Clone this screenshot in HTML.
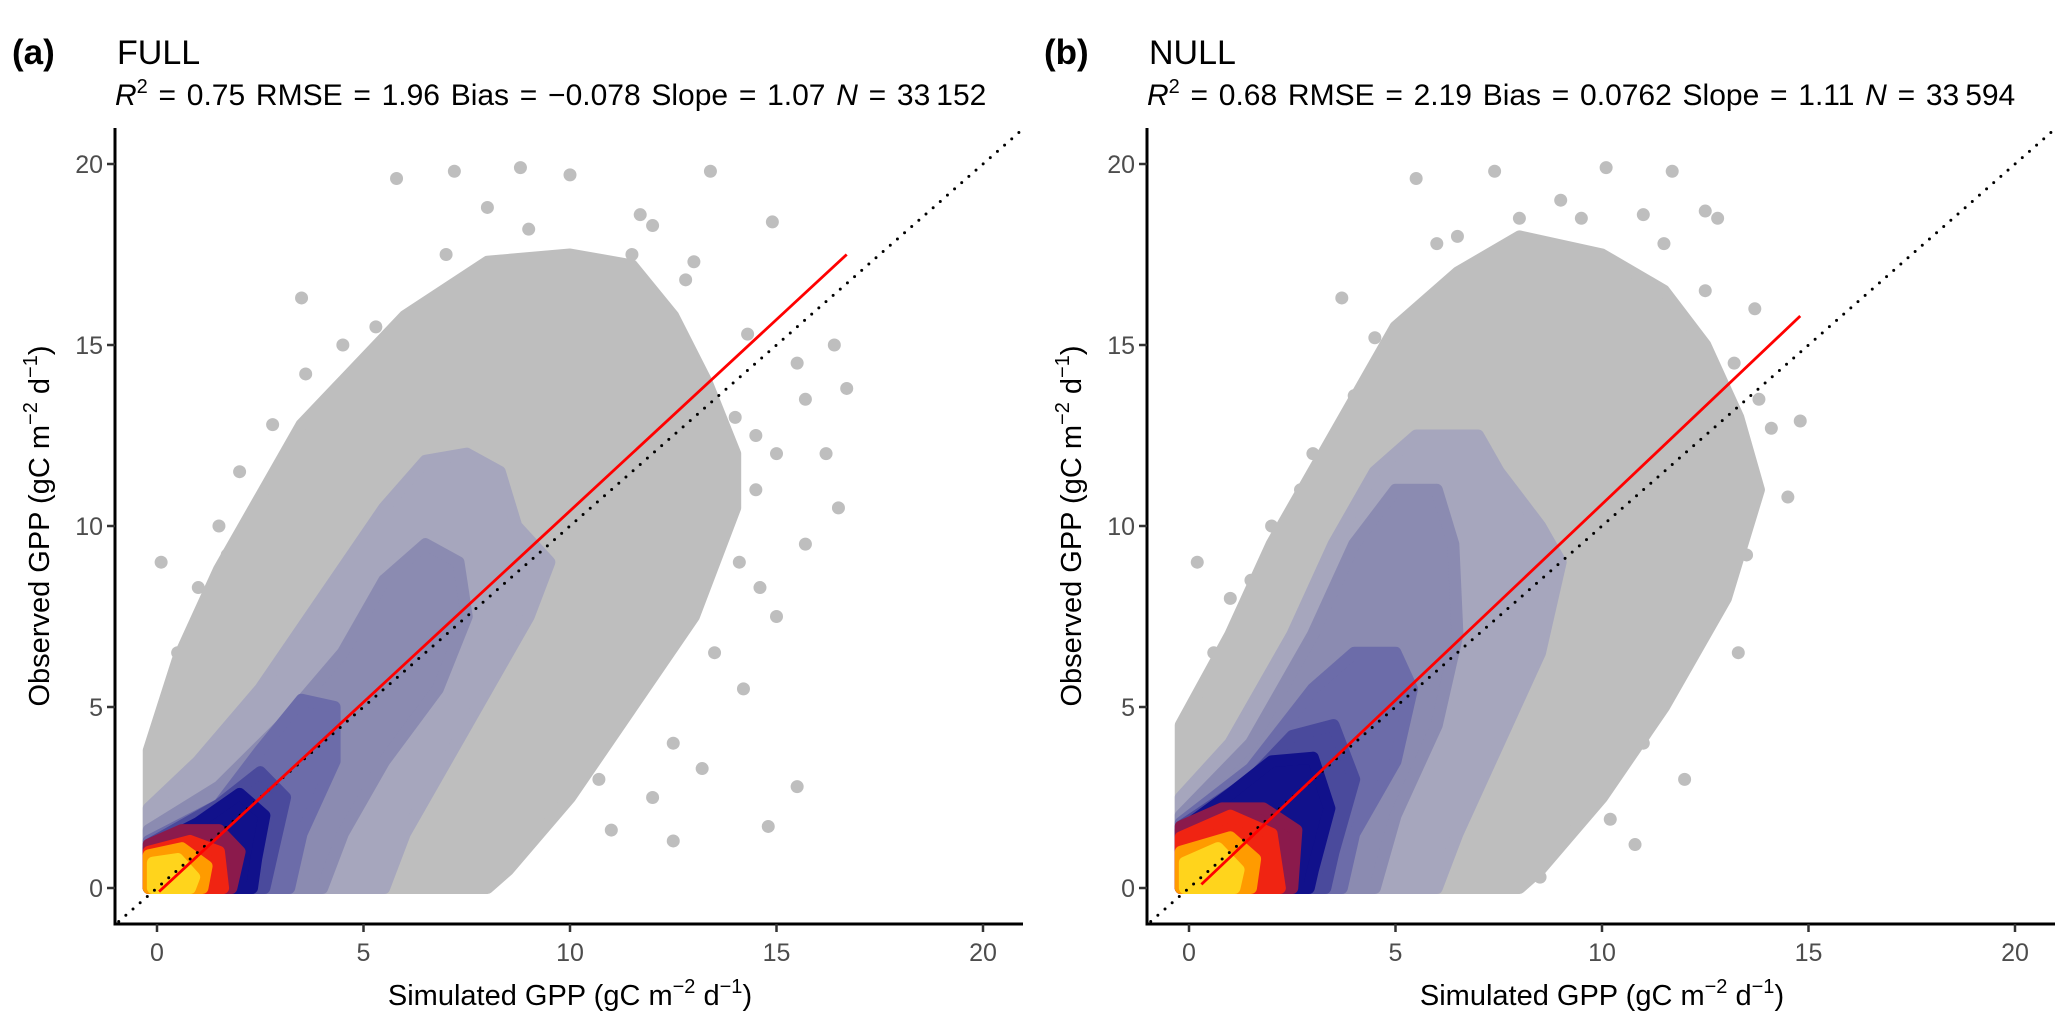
<!DOCTYPE html>
<html><head><meta charset="utf-8">
<style>
html,body{margin:0;padding:0;background:#fff;}
svg{display:block;font-family:"Liberation Sans",Arial,sans-serif;}
</style></head>
<body>
<svg id="fig" width="2067" height="1025" viewBox="0 0 2067 1025" xmlns="http://www.w3.org/2000/svg">
<defs>
<clipPath id="clipA"><rect x="115" y="128" width="910" height="796"/></clipPath>
<clipPath id="clipB"><rect x="1147" y="128" width="920" height="796"/></clipPath>
</defs>
<g id="panelA"></g>
<g id="panelB"></g>
</svg>
<script>
const xTicks = [0, 5, 10, 15, 20];
const yTicks = [0, 5, 10, 15, 20];
const levelColors = ["#bebebe","#a6a6bd","#8b8bb1","#6c6ca9","#4a4a9c","#11118b","#8b1a4c","#f02412","#ff9b00","#ffd41c"];
const levelNames = ["gray","slate-1","slate-2","slate-3","slate-4","navy","dark-red","red","orange","yellow"];

const densityA = [
 [[-0.2,0],[-0.2,3.8],[0.5,6.3],[1.5,8.8],[2.5,10.8],[3.5,12.8],[4.5,14],[6,15.8],[8,17.3],[10,17.5],[11.5,17.2],[12.5,15.8],[13.3,14],[14,12],[14,10.5],[13,7.5],[11.5,5],[10,2.5],[8.5,0.5],[8,0]],
 [[-0.2,0],[-0.2,2.2],[1,3.5],[2.5,5.5],[4,8],[5.5,10.5],[6.5,11.8],[7.5,12],[8.3,11.5],[8.7,10],[9.5,9],[9,7.5],[8,5.5],[7,3.5],[6,1.5],[5.5,0]],
 [[-0.2,0],[-0.2,1.6],[1.5,2.8],[3,4.5],[4.5,6.5],[5.5,8.5],[6.5,9.5],[7.3,9],[7.5,7.5],[6.8,5.5],[5.5,3.5],[4.5,1.5],[4,0]],
 [[-0.2,0],[-0.2,1.3],[1.5,2.3],[2.5,3.8],[3.5,5.2],[4.3,5],[4.3,3.5],[3.5,1.5],[3.2,0]],
 [[-0.2,0],[-0.2,1.2],[1.5,2.3],[2.5,3.2],[3.1,2.5],[2.8,1],[2.6,0]],
 [[-0.2,0],[-0.2,1.1],[1,1.8],[2,2.6],[2.6,2],[2.4,0.8],[2.3,0]],
 [[-0.2,0],[-0.2,1.2],[0.6,1.6],[1.5,1.6],[2,1],[1.8,0]],
 [[-0.2,0],[-0.2,1],[0.8,1.3],[1.5,1],[1.6,0]],
 [[-0.2,0],[-0.2,0.9],[0.6,1.1],[1.2,0.6],[1.1,0]],
 [[-0.1,0],[-0.1,0.7],[0.5,0.8],[0.9,0.3],[0.8,0]]
];
const densityB = [
 [[-0.2,0],[-0.2,4.5],[1,7],[2,9.5],[3,11.5],[4,13.5],[5,15.5],[6.5,17],[8,18],[10,17.5],[11.5,16.5],[12.5,15],[13.3,13],[13.8,11],[13,8],[11.5,5],[10,2.5],[8.5,0.5],[8,0]],
 [[-0.2,0],[-0.2,2.5],[1,4],[2.5,7],[3.5,9.5],[4.5,11.5],[5.5,12.5],[7,12.5],[7.5,11.5],[8.5,10],[9,9],[8.5,6.5],[7.5,4],[6.5,1.5],[6,0]],
 [[-0.2,0],[-0.2,2],[1.5,4],[3,7],[4,9.5],[5,11],[6,11],[6.4,9.5],[6.5,7],[6,4.5],[5,2],[4.5,0]],
 [[-0.2,0],[-0.2,1.8],[1.5,3.3],[3,5.5],[4,6.5],[5,6.5],[5.4,5.5],[5,3.5],[4,1.5],[3.7,0]],
 [[-0.2,0],[-0.2,1.7],[1.5,3],[2.5,4.2],[3.5,4.5],[4,3],[3.5,1],[3.3,0]],
 [[-0.2,0],[-0.2,1.6],[1,2.6],[2,3.5],[3,3.6],[3.4,2.2],[3,0.5],[2.9,0]],
 [[-0.2,0],[-0.2,1.7],[0.8,2.2],[1.8,2.2],[2.6,1.6],[2.5,0]],
 [[-0.2,0],[-0.2,1.4],[1,2],[2,1.5],[2.2,0]],
 [[-0.2,0],[-0.2,1],[1,1.4],[1.6,0.8],[1.5,0]],
 [[-0.1,0],[-0.1,0.7],[0.7,1.1],[1.2,0.5],[1.1,0]]
];
const outliersA = [[0.1,9],[0.5,6.5],[1,8.3],[1.5,10],[2,11.5],[2.8,12.8],[3.5,16.3],[3.6,14.2],[5.3,15.5],[5.8,19.6],[7.2,19.8],[8,18.8],[8.8,19.9],[10,19.7],[11.7,18.6],[13.4,19.8],[11.5,17.5],[14,13],[14.5,12.5],[15,12],[15.7,13.5],[16.2,12],[16.5,10.5],[16.7,13.8],[16.4,15],[14.9,18.4],[15.5,14.5],[15.7,9.5],[15.5,2.8],[14.8,1.7],[14.1,9],[13.5,6.5],[12.5,4],[12,2.5],[11,1.6],[10.7,3],[11.2,5.5],[13,9],[15,7.5],[14.5,11],[12.8,16.8],[6.5,14.5],[4,12],[0.3,5],[1.7,9.2],[9.5,17],[2.3,9.8],[1.2,7.2],[3,11.5],[4.5,15],[7,17.5],[9,18.2],[12,18.3],[13,17.3],[14.3,15.3],[14.6,8.3],[14.2,5.5],[12.5,1.3],[13.2,3.3]];
const outliersB = [[0.2,9],[0.6,6.5],[1,8],[2,10],[3,12],[4,13.6],[3.7,16.3],[5.5,19.6],[7.4,19.8],[8,18.5],[9,19],[10.1,19.9],[11.7,19.8],[12.8,18.5],[12.5,18.7],[13.7,16],[14.1,12.7],[14.8,12.9],[13.2,14.5],[14.5,10.8],[13.5,9.2],[12,7],[11,4],[10.2,1.9],[9.8,3],[8.5,0.3],[13,12],[12.5,16.5],[6.5,18],[2.5,8],[7.5,17.5],[11.5,17.8],[1.5,8.5],[2.7,11],[4.5,15.2],[6,17.8],[9.5,18.5],[11,18.6],[13.8,13.5],[13.3,6.5],[12,3],[10.8,1.2]];
const fitA = [[0.05,-0.1],[16.7,17.5]];
const fitB = [[0.3,0.1],[14.8,15.8]];
const statsA = ["0.75","1.96","\u22120.078","1.07","33\u2009152"];
const statsB = ["0.68","2.19","0.0762","1.11","33\u2009594"];

const NS = "http://www.w3.org/2000/svg";
function mk(tag, attrs, parent){
  const e = document.createElementNS(NS, tag);
  for (const k in attrs) e.setAttribute(k, attrs[k]);
  parent.appendChild(e); return e;
}
function drawPanel(g, x0, clipId, dens, outs, fit, stats, tag, title){
  const sx = v => x0 + v * 41.3;
  const sy = v => 888 - v * 36.2;
  const data = mk("g", {"clip-path": "url(#" + clipId + ")"}, g);
  
  
  outs.forEach(p => {
    const c = mk("circle", {cx: sx(p[0]), cy: sy(p[1]), r: 6.5, fill: levelColors[0]}, data);
    
    
  });
  dens.forEach((poly, i) => {
    const pts = poly.map(p => sx(p[0]) + "," + Math.min(sy(p[1]), 888 + 6)).join(" ");
    const pg = mk("polygon", {points: pts, fill: levelColors[i], stroke: levelColors[i], "stroke-width": 12, "stroke-linejoin": "round"}, data);
    
    
  });
  const one = mk("line", {x1: sx(-1.1), y1: sy(-1.1), x2: sx(21.5), y2: sy(21.5), stroke: "#000", "stroke-width": 3, "stroke-dasharray": "0 9.5", "stroke-linecap": "round"}, data);
  
  
  const fl = mk("line", {x1: sx(fit[0][0]), y1: sy(fit[0][1]), x2: sx(fit[1][0]), y2: sy(fit[1][1]), stroke: "#ff0000", "stroke-width": 2.8}, data);
  
  
  const axL = x0 - 42, axR = x0 + 866;
  const ax = mk("path", {d: `M${axL},128 V924 H${axR}`, fill: "none", stroke: "#000", "stroke-width": 3}, g);
  
  
  xTicks.forEach(t => {
    const tk = mk("line", {x1: sx(t), y1: 924, x2: sx(t), y2: 932, stroke: "#333", "stroke-width": 2.5}, g);
    
    
    const tl = mk("text", {x: sx(t), y: 961, "text-anchor": "middle", "font-size": 25, fill: "#4d4d4d"}, g);
    tl.textContent = t;
    
    
  });
  yTicks.forEach(t => {
    const tk = mk("line", {x1: axL - 8, y1: sy(t), x2: axL, y2: sy(t), stroke: "#333", "stroke-width": 2.5}, g);
    
    
    const tl = mk("text", {x: axL - 12, y: sy(t) + 9, "text-anchor": "end", "font-size": 25, fill: "#4d4d4d"}, g);
    tl.textContent = t;
    
    
  });
  const xt = mk("text", {x: sx(10), y: 1005, "text-anchor": "middle", "font-size": 29, fill: "#000"}, g);
  xt.innerHTML = 'Simulated GPP (gC m<tspan dy="-12" font-size="20">\u22122</tspan><tspan dy="12"> d</tspan><tspan dy="-12" font-size="20">\u22121</tspan><tspan dy="12">)</tspan>';
  
  
  const yt = mk("text", {x: 0, y: 0, "text-anchor": "middle", "font-size": 29, fill: "#000", transform: `translate(${axL - 66},526) rotate(-90)`}, g);
  yt.innerHTML = 'Observed GPP (gC m<tspan dy="-12" font-size="20">\u22122</tspan><tspan dy="12"> d</tspan><tspan dy="-12" font-size="20">\u22121</tspan><tspan dy="12">)</tspan>';
  
  
  const tg = mk("text", {x: axL - 103, y: 64, "font-size": 35, "font-weight": "bold", fill: "#000"}, g);
  tg.textContent = tag;
  
  
  const tt = mk("text", {x: axL + 2, y: 64, "font-size": 34, fill: "#000"}, g);
  tt.textContent = title;
  
  
  const st = mk("text", {x: axL, y: 105, "font-size": 30, fill: "#000", "word-spacing": "2.4"}, g);
  st.setAttribute("xml:space", "preserve");
  st.innerHTML = `<tspan font-style="italic">R</tspan><tspan dy="-12" font-size="20">2</tspan><tspan dy="12"> = ${stats[0]}  RMSE = ${stats[1]} Bias = ${stats[2]} Slope = ${stats[3]}  </tspan><tspan font-style="italic">N</tspan><tspan> = ${stats[4]}</tspan>`;
  
  
}
drawPanel(document.getElementById("panelA"), 157, "clipA", densityA, outliersA, fitA, statsA, "(a)", "FULL");
drawPanel(document.getElementById("panelB"), 1189, "clipB", densityB, outliersB, fitB, statsB, "(b)", "NULL");
</script>
</body></html>
